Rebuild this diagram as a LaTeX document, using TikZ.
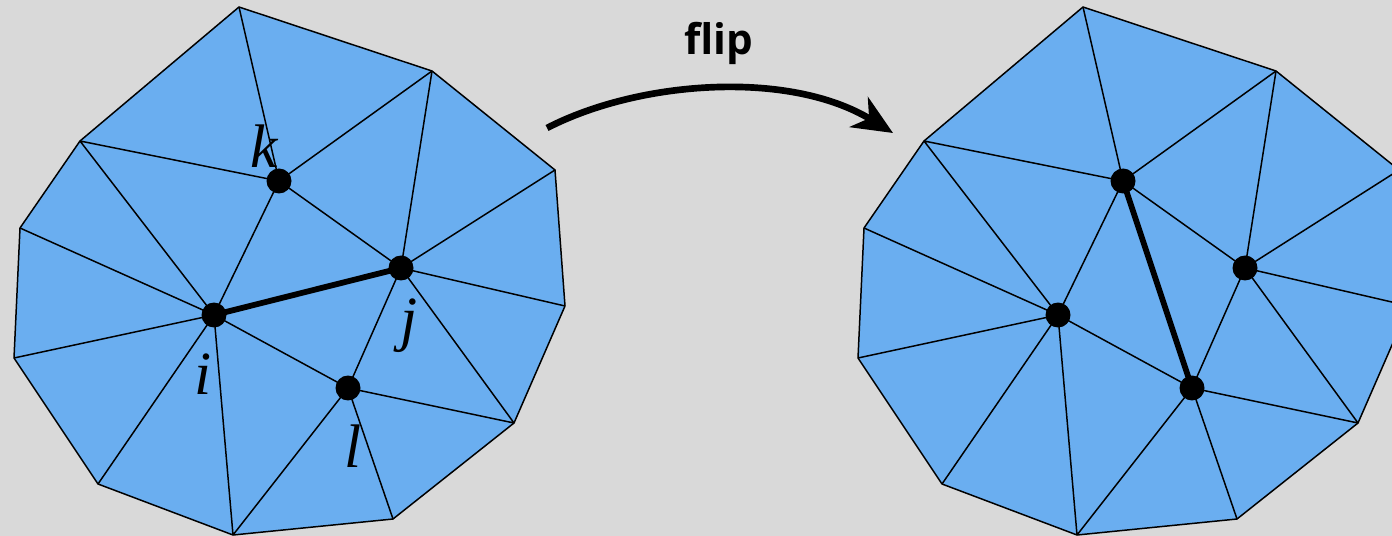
\documentclass[tikz,border=0pt]{standalone}
\usepackage{fontspec}
\newfontfamily\flipfont{Open Sans}
\newfontfamily\lblfont{Liberation Serif}
\usetikzlibrary{arrows.meta}
\definecolor{bgc}{RGB}{217,217,217}
\definecolor{meshblue}{RGB}{106,174,240}

\newcommand\meshdraw[4]{%
\begin{scope}[xshift=#2*0.02cm]
  \coordinate (#1o1) at (239,7);
  \coordinate (#1o2) at (432,71);
  \coordinate (#1o3) at (555,170);
  \coordinate (#1o4) at (565,306);
  \coordinate (#1o5) at (514,423);
  \coordinate (#1o6) at (393,519);
  \coordinate (#1o7) at (233,535);
  \coordinate (#1o8) at (98,484);
  \coordinate (#1o9) at (14,358);
  \coordinate (#1o10) at (20,228);
  \coordinate (#1o11) at (80,141);
  \coordinate (#1k) at (279,181);
  \coordinate (#1j) at (401,268);
  \coordinate (#1i) at (214,315);
  \coordinate (#1l) at (348,388);
  \fill[meshblue] (#1o1) -- (#1o2) -- (#1o3) -- (#1o4) -- (#1o5) -- (#1o6) -- (#1o7) -- (#1o8) -- (#1o9) -- (#1o10) -- (#1o11) -- cycle;
  \draw[edge] (#1o1) -- (#1k) (#1o11) -- (#1k) (#1o2) -- (#1k)
    (#1o2) -- (#1j) (#1o3) -- (#1j) (#1o4) -- (#1j) (#1o5) -- (#1j)
    (#1o5) -- (#1l) (#1o6) -- (#1l) (#1o7) -- (#1l)
    (#1o7) -- (#1i) (#1o8) -- (#1i) (#1o9) -- (#1i) (#1o10) -- (#1i) (#1o11) -- (#1i)
    (#1k) -- (#1i) (#1k) -- (#1j) (#1i) -- (#1l) (#1j) -- (#1l);
  \draw[edge] (#1o1) -- (#1o2) -- (#1o3) -- (#1o4) -- (#1o5) -- (#1o6) -- (#1o7) -- (#1o8) -- (#1o9) -- (#1o10) -- (#1o11) -- cycle;
  \draw[flipedge] (#1#3) -- (#1#4);
  \node[vert] (#1dk) at (#1k) {};
  \node[vert] (#1dj) at (#1j) {};
  \node[vert] (#1di) at (#1i) {};
  \node[vert] (#1dl) at (#1l) {};
\end{scope}}

\begin{document}
\begin{tikzpicture}[x=0.02cm,y=-0.02cm,
  edge/.style={line width=0.85pt, line join=round},
  flipedge/.style={line width=3.3pt},
  vert/.style={circle, fill=black, inner sep=0pt, minimum size=0.5cm},
  lbl/.style={font=\lblfont\itshape\fontsize{35}{42}\selectfont, inner sep=0pt, anchor=base},
  arr/.style={line width=3.8pt, -{Stealth[length=0.8cm, width=0.7cm, inset=0.24cm]}}]
\useasboundingbox (0,0) rectangle (1392,536);
\fill[bgc] (0,0) rectangle (1392,536);
\clip (0,0) rectangle (1392,536);
\meshdraw{L}{0}{i}{j}
\meshdraw{R}{844}{k}{l}
\node[lbl] (lk) at (264,168) {k};
\node[lbl] (li) at (203,395) {i};
\node[lbl] (lj) at (409,340) {j};
\node[lbl] (ll) at (353,467) {l};
\coordinate (as) at (547,128);
\coordinate (ae) at (893,133);
\draw[arr] (as) .. controls (640,80) and (790,70) .. (ae);
\node[font=\flipfont\bfseries\fontsize{24}{28}\selectfont, anchor=base, inner sep=0pt] (flip) at (719,55) {flip};
\end{tikzpicture}
\end{document}
